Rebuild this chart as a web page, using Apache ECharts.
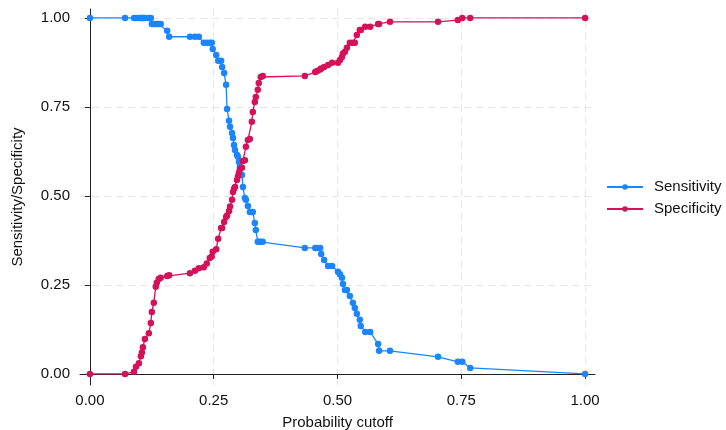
<!DOCTYPE html>
<html>
<head>
<meta charset="utf-8">
<script src="https://cdn.jsdelivr.net/npm/echarts@6/dist/echarts.min.js"></script>
<style>html,body{margin:0;padding:0;background:#fff;}#c{width:726px;height:430px;}</style>
</head>
<body>
<div id="c"></div>
<script>
var cutoffs = [0, 0.071, 0.089, 0.093, 0.099, 0.103, 0.105, 0.107, 0.111, 0.119, 0.123, 0.125, 0.129, 0.133, 0.135, 0.139, 0.143, 0.156, 0.160, 0.202, 0.212, 0.220, 0.230, 0.236, 0.242, 0.246, 0.248, 0.255, 0.259, 0.265, 0.267, 0.271, 0.275, 0.277, 0.281, 0.283, 0.287, 0.289, 0.291, 0.293, 0.297, 0.299, 0.301, 0.303, 0.307, 0.309, 0.313, 0.315, 0.319, 0.323, 0.327, 0.329, 0.333, 0.335, 0.339, 0.341, 0.345, 0.349, 0.434, 0.455, 0.459, 0.465, 0.467, 0.473, 0.481, 0.489, 0.501, 0.505, 0.509, 0.511, 0.515, 0.519, 0.525, 0.531, 0.535, 0.539, 0.545, 0.547, 0.556, 0.566, 0.582, 0.584, 0.606, 0.703, 0.743, 0.752, 0.768, 1.0];
var sensitivity = [1, 1, 1, 1, 1, 1, 1, 1, 1, 1, 1, 0.983, 0.983, 0.983, 0.983, 0.983, 0.983, 0.964, 0.947, 0.947, 0.947, 0.947, 0.93, 0.93, 0.93, 0.93, 0.913, 0.896, 0.88, 0.88, 0.862, 0.845, 0.812, 0.744, 0.711, 0.694, 0.677, 0.663, 0.643, 0.629, 0.615, 0.61, 0.595, 0.581, 0.559, 0.525, 0.494, 0.489, 0.472, 0.455, 0.455, 0.455, 0.424, 0.404, 0.371, 0.371, 0.371, 0.371, 0.354, 0.354, 0.354, 0.354, 0.337, 0.32, 0.303, 0.303, 0.287, 0.28, 0.27, 0.253, 0.236, 0.236, 0.219, 0.2, 0.185, 0.169, 0.152, 0.135, 0.118, 0.118, 0.084, 0.065, 0.065, 0.048, 0.034, 0.034, 0.017, 0];
var specificity = [0, 0, 0.006, 0.02, 0.03, 0.05, 0.06, 0.075, 0.098, 0.114, 0.143, 0.174, 0.2, 0.245, 0.256, 0.267, 0.27, 0.275, 0.277, 0.283, 0.29, 0.297, 0.3, 0.31, 0.326, 0.33, 0.343, 0.35, 0.38, 0.41, 0.41, 0.427, 0.441, 0.445, 0.458, 0.47, 0.489, 0.511, 0.52, 0.525, 0.545, 0.555, 0.565, 0.575, 0.579, 0.598, 0.6, 0.638, 0.657, 0.66, 0.708, 0.736, 0.764, 0.778, 0.798, 0.817, 0.834, 0.837, 0.837, 0.848, 0.851, 0.855, 0.858, 0.862, 0.868, 0.874, 0.874, 0.882, 0.89, 0.9, 0.905, 0.916, 0.93, 0.93, 0.93, 0.952, 0.966, 0.966, 0.975, 0.975, 0.983, 0.983, 0.989, 0.989, 0.994, 1.0, 1.0, 1.0];
var tickValues = [0, 0.25, 0.5, 0.75, 1];
var tickLabels = ['0.00', '0.25', '0.50', '0.75', '1.00'];
var seriesNames = ['Sensitivity', 'Specificity'];
var colors = ['#1a85ff', '#d41159'];

function pairs(ys) { return cutoffs.map(function (x, i) { return [x, ys[i]]; }); }
function fmt(v) { var i = tickValues.indexOf(Math.round(v * 100) / 100); return i >= 0 ? tickLabels[i] : ''; }

var font = 'Liberation Sans, Arial, Helvetica, sans-serif';
var fs = 15;
function axisCommon(margin) {
  return {
    axisLine: { show: true, lineStyle: { color: '#222', width: 1 } },
    axisTick: { show: true, length: 5, lineStyle: { color: '#222', width: 1 }, customValues: tickValues },
    axisLabel: { customValues: tickValues, formatter: fmt, color: '#111', fontSize: fs, fontFamily: font, margin: margin },
    splitLine: { show: true, lineStyle: { color: '#e6e6e6', width: 1, type: [7, 5] } },
    nameLocation: 'middle',
    nameTextStyle: { color: '#111', fontSize: fs, fontFamily: font }
  };
}
var xA = axisCommon(8);
xA.type = 'value'; xA.min = -0.02; xA.max = 1.02; xA.name = 'Probability cutoff'; xA.nameGap = 30;
var yA = axisCommon(10);
yA.type = 'value'; yA.min = -0.031; yA.max = 1.025; yA.name = 'Sensitivity/Specificity'; yA.nameGap = 55;

var chart = echarts.init(document.getElementById('c'), null, { renderer: 'canvas' });
chart.setOption({
  animation: false,
  backgroundColor: '#fff',
  color: colors,
  grid: { left: 80, top: 9, width: 515, height: 376, containLabel: false, outerBoundsMode: 'none' },
  xAxis: xA,
  yAxis: yA,
  legend: {
    orient: 'vertical', left: 601, top: 174, itemWidth: 36, itemHeight: 7, itemGap: 6,
    textStyle: { color: '#111', fontSize: fs, fontFamily: font, lineHeight: 16, padding: [0, 0, 0, 6] },
    data: seriesNames
  },
  series: [
    { name: seriesNames[0], type: 'line', data: pairs(sensitivity), symbol: 'circle', symbolSize: 6.5, showSymbol: true,
      lineStyle: { width: 1.3, color: colors[0] }, itemStyle: { color: colors[0] } },
    { name: seriesNames[1], type: 'line', data: pairs(specificity), symbol: 'circle', symbolSize: 6.5, showSymbol: true,
      lineStyle: { width: 1.3, color: colors[1] }, itemStyle: { color: colors[1] } }
  ]
});
</script>
</body>
</html>
